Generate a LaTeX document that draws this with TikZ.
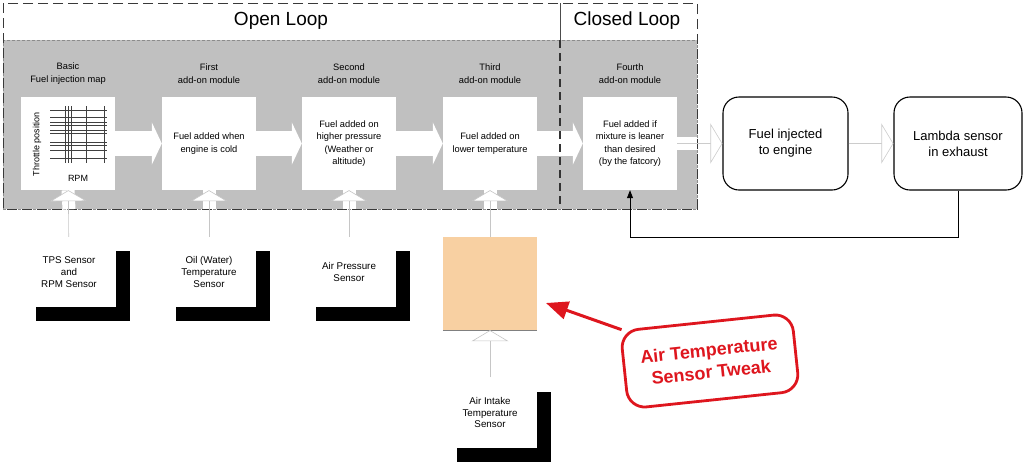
\documentclass[tikz,border=0pt]{standalone}
\usepackage{fontspec}
\setmainfont{Liberation Sans}
\usetikzlibrary{arrows.meta,shadows}

\definecolor{panelgray}{RGB}{192,192,192}
\definecolor{peach}{RGB}{248,208,162}
\definecolor{tweakred}{RGB}{222,22,30}

\tikzset{
  module/.style={fill=white, minimum width=94pt, minimum height=93pt, inner sep=2pt,
    align=center, font=\fontsize{9.3}{12.5}\selectfont},
  header/.style={align=center, font=\fontsize{9.3}{13}\selectfont},
  sensor/.style={fill=white, minimum width=94pt, minimum height=70pt, align=center,
    font=\fontsize{9.8}{11.8}\selectfont,
    drop shadow={shadow xshift=14pt, shadow yshift=-14pt, fill=black, opacity=1}},
  engine/.style={draw, line width=1.1pt, rounded corners=16pt, minimum height=93pt,
    align=center, font=\fontsize{13}{16}\selectfont},
  callout/.style={draw=tweakred, text=tweakred, line width=2.8pt, rounded corners=18pt,
    minimum width=172pt, minimum height=78pt, align=center,
    font=\bfseries\fontsize{18}{22}\selectfont},
  bigarrow/.style={white, line width=25pt, -{Triangle[length=10pt, width=42pt]}},
  uparrow/.style={gray!45, line width=0.6pt, -{Triangle[length=11pt, width=37pt, fill=white]}},
  thinarrow/.style={gray!40, line width=0.6pt, -{Triangle[length=12pt, width=40pt, fill=white]}},
  frame/.style={gray!45!black, line width=0.9pt, dash pattern=on 10pt off 5pt},
}

\begin{document}
\begin{tikzpicture}[x=1pt, y=-1pt]
  \useasboundingbox (0,0) rectangle (1024,464);

  % Loop panel
  \node[draw=black!45, dash pattern=on 3pt off 2pt, line width=0.5pt, fill=panelgray,
    minimum width=694pt, minimum height=169pt, inner sep=0pt] (panel) at (350,124.5) {};
  \draw[frame] (3,3) rectangle (697,209);
  \node[font=\fontsize{19}{22}\selectfont] (openloop) at (281,21) {Open Loop};
  \node[font=\fontsize{19}{22}\selectfont] (closedloop) at (627,21) {Closed Loop};

  % Headers
  \node[header] (hbasic) at (68,73.5) {Basic\\Fuel injection map};
  \node[header] (hfirst) at (209,73.5) {First\\add-on module};
  \node[header] (hsecond) at (349,73.5) {Second\\add-on module};
  \node[header] (hthird) at (490,73.5) {Third\\add-on module};
  \node[header] (hfourth) at (630,73.5) {Fourth\\add-on module};

  % Modules
  \node[module] (basic) at (68,143.5) {};
  \node[module] (first) at (209,143.5) {Fuel added when\\engine is cold};
  \node[module] (second) at (349,143.5) {Fuel added on\\higher pressure\\(Weather or\\altitude)};
  \node[module] (third) at (490,143.5) {Fuel added on\\lower temperature};
  \node[module] (fourth) at (630,143.5) {Fuel added if\\mixture is leaner\\than desired\\(by the fatcory)};

  % Fuel map grid
  \foreach \gx in {65,68,71,86,104}
    \draw[black!75, line width=0.6pt] (\gx,106) -- (\gx,163);
  \foreach \gy in {110,117,122,125,130,133,142,145,150,158}
    \draw[black!75, line width=0.6pt] (50,\gy) -- (107,\gy);
  \node[rotate=90, font=\fontsize{9}{11}\selectfont] (throttle) at (37,144) {Throttle position};
  \node[font=\fontsize{9}{11}\selectfont] (rpm) at (78,178) {RPM};

  % Main flow
  \draw[bigarrow] (basic) -- (first);
  \draw[bigarrow] (first) -- (second);
  \draw[bigarrow] (second) -- (third);
  \draw[bigarrow] (third) -- (fourth);

  % Open / closed divider
  \draw[black!70, line width=0.9pt] (560,3) -- (560,40);
  \draw[black!80, line width=1.2pt, dash pattern=on 8pt off 5pt] (560,40) -- (560,209);

  % Engine side
  \node[engine, minimum width=125pt] (fuel) at (785.5,143.5) {Fuel injected\\to engine};
  \node[engine, minimum width=128pt] (lambda) at (958,143.5) {Lambda sensor\\in exhaust};
  \draw[white, line width=13pt] (fourth.east) -- (fourth.east -| panel.east);
  \draw[thinarrow] (fourth) -- (fuel);
  \draw[thinarrow] (fuel) -- (lambda);
  \coordinate (loopback) at (630,237);
  \draw[line width=0.8pt, -{Triangle[length=8pt, width=6pt]}] (lambda.south) |- (loopback) -- (fourth.south);

  % Sensors
  \node[sensor] (tps) at (69,272) {TPS Sensor\\and\\RPM Sensor};
  \node[sensor] (oil) at (209,272) {Oil (Water)\\Temperature\\Sensor};
  \node[sensor] (pressure) at (349,272) {Air Pressure\\Sensor};
  \node[fill=peach, minimum width=94pt, minimum height=93pt] (tempbox) at (490,283.5) {};
  \draw[gray, line width=0.6pt] (tempbox.south west) -- (tempbox.south east);
  \node[sensor] (intake) at (490,412.5) {Air Intake\\Temperature\\Sensor};

  \draw[white, line width=13pt] (tps |- panel.south) -- (basic.south);
  \draw[white, line width=13pt] (oil |- panel.south) -- (first.south);
  \draw[white, line width=13pt] (pressure |- panel.south) -- (second.south);
  \draw[white, line width=13pt] (tempbox |- panel.south) -- (third.south);
  \draw[uparrow] (tps) -- (basic);
  \draw[uparrow] (oil) -- (first);
  \draw[uparrow] (pressure) -- (second);
  \draw[uparrow] (tempbox) -- (third);
  \draw[uparrow] (intake) -- (tempbox);

  % Tweak callout
  \node[callout, rotate=6] (tweak) at (710,361) {Air Temperature\\Sensor Tweak};
  \coordinate (aim) at (546,303);
  \draw[tweakred, line width=3pt, -{Triangle[length=22pt, width=18pt]}] (tweak) -- (aim);
\end{tikzpicture}
\end{document}
